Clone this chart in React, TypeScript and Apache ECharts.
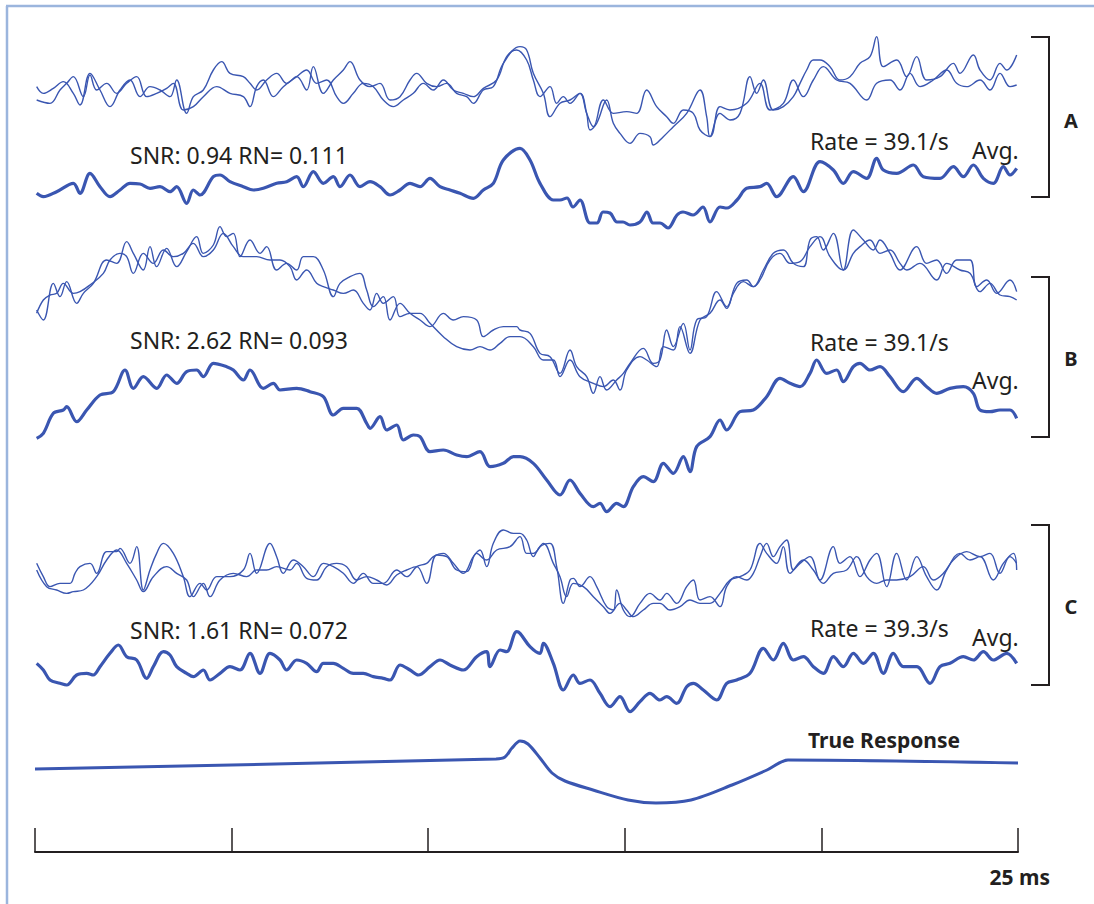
import React, { useEffect, useRef } from "react";
import * as echarts from "echarts";

// x: sample index (2949 samples = 25 ms), y: amplitude in arbitrary units
const aRaw1 = [[5,30],[25,10],[55,25],[85,45],[115,10],[135,-25],[165,70],[195,20],[225,-30],[255,20],[285,50],[315,0],[345,30],[375,20],[405,0],[425,50],[455,-50],[475,0],[505,20],[535,80],[560,105],[585,70],[625,60],[645,40],[665,20],[695,50],[725,70],[755,40],[785,60],[815,20],[835,90],[865,10],[895,50],[925,80],[945,105],[975,50],[1005,30],[1035,40],[1065,-10],[1095,0],[1125,50],[1145,70],[1175,40],[1205,30],[1235,40],[1265,10],[1295,0],[1315,-20],[1345,20],[1375,30],[1405,100],[1455,150],[1475,140],[1495,70],[1525,10],[1545,-60],[1575,-20],[1605,-10],[1635,10],[1655,-50],[1665,-100],[1685,-80],[1715,-10],[1735,-80],[1755,-110],[1785,-140],[1815,-110],[1845,-120],[1855,-145],[1885,-120],[1915,-90],[1955,-50],[1995,20],[2015,-60],[2025,-120],[2055,-50],[2085,-70],[2115,-50],[2145,60],[2165,10],[2185,50],[2215,-40],[2245,-30],[2275,0],[2295,40],[2315,80],[2335,110],[2355,110],[2385,90],[2415,50],[2445,60],[2475,100],[2505,120],[2525,180],[2545,90],[2585,110],[2615,60],[2645,120],[2675,50],[2715,60],[2755,100],[2775,70],[2815,125],[2835,80],[2865,50],[2895,100],[2915,80],[2945,125]];
const aRaw2 = [[5,-10],[45,-20],[75,20],[95,40],[115,60],[145,0],[165,65],[185,20],[215,40],[245,10],[275,40],[305,60],[335,0],[365,10],[395,25],[415,40],[445,-40],[475,-30],[505,0],[545,30],[585,10],[625,0],[645,-30],[665,30],[685,50],[715,0],[745,30],[785,60],[815,80],[845,40],[875,50],[905,0],[925,-20],[955,10],[985,40],[1015,30],[1045,-10],[1075,-30],[1105,-10],[1135,10],[1165,40],[1195,20],[1225,50],[1255,20],[1285,10],[1315,0],[1345,25],[1385,50],[1415,120],[1445,140],[1475,110],[1495,50],[1515,0],[1545,30],[1565,-20],[1585,0],[1605,-20],[1635,10],[1655,-50],[1675,-90],[1705,-10],[1735,-50],[1775,-45],[1805,-50],[1835,20],[1865,-30],[1895,-60],[1915,-80],[1945,-40],[1975,-50],[1995,-100],[2025,-120],[2055,-30],[2085,-40],[2135,-20],[2175,40],[2205,-40],[2245,-20],[2275,50],[2305,0],[2335,50],[2365,90],[2405,50],[2445,40],[2495,-10],[2525,40],[2565,50],[2595,20],[2625,70],[2655,30],[2695,50],[2735,80],[2765,40],[2795,30],[2835,50],[2865,20],[2895,70],[2925,30],[2945,35]];
const aAvg = [[5,10],[25,0],[65,15],[115,40],[135,10],[165,70],[195,30],[225,0],[255,20],[285,40],[315,38],[345,25],[375,30],[405,15],[425,30],[455,-20],[475,20],[495,5],[535,60],[555,65],[585,45],[625,30],[655,20],[685,25],[725,40],[755,45],[785,60],[805,30],[835,75],[865,40],[895,60],[915,30],[945,65],[975,30],[1005,45],[1035,30],[1065,5],[1095,20],[1125,40],[1155,30],[1185,55],[1215,30],[1245,20],[1275,10],[1315,-5],[1345,20],[1375,40],[1405,110],[1455,145],[1485,110],[1515,40],[1555,-10],[1575,-10],[1596,-4],[1614,-31],[1635,-10],[1665,-79],[1686,-79],[1704,-46],[1725,-49],[1746,-76],[1764,-76],[1785,-85],[1815,-76],[1836,-46],[1854,-79],[1875,-79],[1899,-94],[1926,-55],[1944,-46],[1974,-55],[2004,-31],[2025,-76],[2055,-31],[2076,-34],[2106,-10],[2135,25],[2175,30],[2195,40],[2225,0],[2275,60],[2305,15],[2355,105],[2395,80],[2425,40],[2455,75],[2495,55],[2525,115],[2545,80],[2585,70],[2635,95],[2665,60],[2715,55],[2755,90],[2785,60],[2815,95],[2845,55],[2875,40],[2905,90],[2925,65],[2945,85]];

const bRaw1 = [[5,-70],[25,-100],[55,10],[75,-30],[95,15],[125,-50],[145,-20],[175,10],[215,80],[245,70],[275,135],[295,100],[325,50],[345,120],[365,60],[395,115],[425,60],[455,105],[485,150],[505,100],[535,125],[555,180],[575,150],[595,160],[615,90],[645,140],[675,100],[695,120],[725,50],[755,70],[785,50],[805,90],[835,90],[865,50],[895,-30],[915,10],[945,30],[975,40],[995,-10],[1015,-60],[1045,-30],[1065,-100],[1095,-50],[1125,-80],[1155,-100],[1185,-120],[1225,-80],[1255,-100],[1285,-90],[1325,-100],[1345,-150],[1375,-130],[1405,-120],[1445,-120],[1455,-130],[1485,-140],[1515,-200],[1545,-210],[1575,-260],[1605,-190],[1625,-240],[1655,-270],[1675,-320],[1695,-270],[1715,-310],[1745,-280],[1765,-260],[1785,-230],[1825,-185],[1855,-230],[1875,-220],[1895,-130],[1915,-180],[1945,-110],[1965,-190],[1985,-100],[2015,-90],[2045,-15],[2075,-60],[2105,10],[2135,20],[2155,0],[2185,50],[2215,100],[2245,110],[2275,70],[2305,60],[2325,140],[2345,150],[2365,110],[2395,160],[2425,50],[2455,170],[2485,140],[2515,110],[2535,140],[2565,100],[2595,50],[2645,120],[2675,70],[2705,80],[2735,40],[2765,80],[2805,80],[2825,0],[2855,20],[2885,-20],[2925,20],[2945,-15]];
const bRaw2 = [[5,-80],[25,-40],[45,-25],[65,-20],[85,10],[115,-20],[135,-15],[165,5],[205,40],[225,80],[255,100],[275,90],[295,40],[325,100],[355,70],[385,110],[415,90],[445,100],[475,130],[505,90],[535,110],[565,160],[595,120],[625,90],[665,90],[705,80],[735,80],[765,60],[785,20],[815,50],[845,10],[865,0],[895,-10],[925,-20],[955,-10],[985,-50],[1005,-70],[1025,-20],[1045,-50],[1075,-30],[1095,-90],[1125,-80],[1155,-80],[1185,-110],[1225,-150],[1265,-180],[1305,-190],[1335,-180],[1365,-190],[1395,-170],[1425,-150],[1455,-150],[1495,-180],[1525,-220],[1555,-220],[1575,-270],[1605,-220],[1635,-270],[1675,-290],[1705,-300],[1735,-280],[1755,-310],[1775,-250],[1815,-210],[1835,-220],[1865,-240],[1885,-180],[1915,-190],[1935,-120],[1965,-200],[1995,-100],[2025,-80],[2055,-40],[2075,-65],[2095,-20],[2125,15],[2155,0],[2175,20],[2205,80],[2235,100],[2265,70],[2295,75],[2325,120],[2355,150],[2385,90],[2425,50],[2455,100],[2475,120],[2505,140],[2535,100],[2565,110],[2595,70],[2615,50],[2655,70],[2705,20],[2735,70],[2775,50],[2805,40],[2835,-15],[2865,10],[2895,-25],[2925,-30],[2945,-40]];
const bAvg = [[5,45],[25,60],[55,120],[85,130],[95,140],[125,95],[155,130],[195,175],[235,185],[270,250],[295,195],[325,230],[365,195],[395,235],[425,210],[455,245],[485,250],[505,230],[535,270],[575,260],[595,250],[625,220],[645,250],[685,195],[715,210],[735,190],[785,195],[825,185],[865,170],[895,115],[925,135],[965,135],[995,90],[1005,75],[1035,110],[1055,70],[1085,85],[1105,40],[1135,55],[1155,50],[1185,5],[1225,10],[1265,-5],[1295,-10],[1335,5],[1365,-40],[1405,-30],[1435,-10],[1455,-10],[1495,-30],[1535,-80],[1575,-125],[1605,-80],[1635,-120],[1675,-160],[1695,-150],[1715,-175],[1745,-150],[1765,-160],[1795,-100],[1825,-70],[1855,-85],[1885,-30],[1915,-60],[1945,-10],[1965,-55],[1985,20],[2025,50],[2055,100],[2075,70],[2115,125],[2155,130],[2195,170],[2235,225],[2265,210],[2295,200],[2325,240],[2345,280],[2375,240],[2405,250],[2425,215],[2455,260],[2475,270],[2505,250],[2535,260],[2565,230],[2605,185],[2645,225],[2675,200],[2705,180],[2745,195],[2785,200],[2815,180],[2835,130],[2865,125],[2895,130],[2925,130],[2945,105]];

const cRaw1 = [[5,70],[25,30],[45,0],[75,10],[105,10],[120,40],[135,60],[165,70],[185,40],[215,105],[245,105],[255,115],[285,70],[305,120],[325,-10],[345,50],[365,100],[385,130],[415,100],[445,30],[465,-30],[495,10],[515,-10],[545,30],[585,30],[625,50],[645,100],[665,40],[705,130],[725,90],[745,40],[775,80],[805,60],[835,30],[865,70],[895,60],[925,40],[955,10],[985,40],[1015,10],[1045,10],[1085,50],[1115,30],[1145,60],[1175,70],[1195,90],[1225,100],[1255,70],[1285,40],[1315,90],[1335,110],[1355,60],[1375,130],[1405,170],[1435,160],[1455,160],[1475,140],[1495,90],[1515,120],[1545,130],[1565,60],[1585,-50],[1605,20],[1615,25],[1635,0],[1665,30],[1685,0],[1715,-60],[1735,-70],[1745,-10],[1765,-70],[1785,-90],[1815,-50],[1845,-20],[1875,-40],[1895,-20],[1925,-50],[1955,0],[1975,20],[1995,-40],[2025,-30],[2055,-60],[2075,0],[2105,30],[2135,20],[2155,40],[2175,90],[2195,130],[2215,90],[2235,120],[2255,140],[2275,50],[2295,70],[2325,90],[2355,20],[2395,120],[2415,70],[2445,90],[2475,30],[2505,80],[2525,100],[2555,0],[2585,100],[2615,20],[2645,90],[2675,30],[2705,-10],[2735,50],[2775,100],[2805,80],[2835,90],[2875,20],[2905,70],[2935,100],[2945,50]];
const cRaw2 = [[5,50],[35,0],[65,-10],[95,-20],[115,-15],[145,-10],[185,30],[215,80],[245,110],[275,70],[305,20],[325,-15],[355,30],[395,60],[425,40],[455,20],[475,-30],[505,10],[525,-30],[555,20],[595,40],[635,30],[665,50],[695,50],[725,60],[765,50],[785,70],[815,25],[845,20],[875,60],[905,70],[935,60],[965,20],[995,30],[1025,20],[1055,5],[1085,35],[1115,50],[1145,60],[1175,10],[1205,95],[1235,90],[1265,50],[1295,45],[1325,100],[1355,80],[1385,110],[1425,120],[1455,150],[1475,100],[1495,100],[1525,130],[1555,70],[1575,30],[1595,-30],[1615,10],[1645,0],[1675,-30],[1705,-60],[1725,-80],[1755,-50],[1775,-70],[1795,-90],[1825,-70],[1855,-50],[1875,-50],[1905,-70],[1935,-60],[1965,-40],[1995,-50],[2025,-50],[2055,-20],[2085,20],[2115,30],[2145,50],[2175,130],[2195,100],[2225,70],[2245,120],[2265,40],[2305,80],[2335,50],[2365,10],[2395,40],[2435,50],[2465,90],[2495,30],[2525,10],[2555,20],[2585,20],[2625,30],[2665,60],[2695,20],[2725,40],[2755,80],[2795,105],[2835,90],[2865,100],[2895,40],[2925,90],[2945,70]];
const cAvg = [[5,70],[25,50],[45,20],[75,10],[95,5],[125,35],[155,40],[175,35],[195,60],[225,100],[250,125],[275,90],[305,80],[335,25],[355,60],[385,105],[405,95],[425,60],[455,40],[475,30],[505,50],[525,20],[555,40],[585,60],[615,50],[645,100],[675,40],[705,100],[735,80],[755,50],[785,80],[815,70],[845,45],[865,70],[895,70],[925,55],[955,40],[985,40],[1015,30],[1045,25],[1065,20],[1095,65],[1125,50],[1150,35],[1185,60],[1215,80],[1245,65],[1285,50],[1325,90],[1355,105],[1365,60],[1395,110],[1415,105],[1445,165],[1455,160],[1485,120],[1515,100],[1525,130],[1555,70],[1585,-10],[1615,35],[1635,10],[1665,20],[1695,-20],[1725,-60],[1755,-30],[1785,-75],[1815,-45],[1845,-20],[1875,-40],[1895,-30],[1925,-50],[1955,0],[1975,10],[2005,-10],[2045,-40],[2075,10],[2105,20],[2145,40],[2185,115],[2215,80],[2245,130],[2275,80],[2305,90],[2335,60],[2365,40],[2395,90],[2425,60],[2455,100],[2485,70],[2515,100],[2545,40],[2575,100],[2605,60],[2645,60],[2685,10],[2715,60],[2745,70],[2785,90],[2815,80],[2845,105],[2875,80],[2915,100],[2945,70]];

const trueResponse = [[0,53],[1383,83],[1410,89],[1431,116],[1455,137],[1479,128],[1515,86],[1551,41],[1590,17],[1674,-10],[1779,-40],[1863,-49],[1968,-40],[2091,5],[2196,50],[2259,80],[2949,71]];

const panelLabels = ["A", "B", "C"];
const snrLabels = ["SNR: 0.94 RN= 0.111", "SNR: 2.62 RN= 0.093", "SNR: 1.61 RN= 0.072"];
const rateLabels = ["Rate = 39.1/s", "Rate = 39.1/s", "Rate = 39.3/s"];
const avgLabel = "Avg.";
const trueLabel = "True Response";
const scaleLabel = "25 ms";
const scaleMs = [0, 25];
const scaleStep = 5;
const totalSamples = 2949;

const BLUE = "#3a56b1";
const INK = "#231f20";
const FONT = "Noto Sans";

export default function App() {
  const ref = useRef<HTMLDivElement>(null);
  useEffect(() => {
    if (!ref.current) return;
    const chart = echarts.init(ref.current, undefined, { renderer: "svg" });

    // grid layout: [top, height, yMin, yMax]
    const layout = [
      [30, 100, -100, 200],
      [130, 100, -100, 200],
      [220, 180, -340, 200],
      [340, 180, -200, 340],
      [520, 110, -130, 200],
      [620, 100, -100, 200],
      [720, 100, -100, 200],
    ];
    const grids: any[] = layout.map((l) => ({ left: 35, width: 983, top: l[0], height: l[1] }));
    grids.push({ left: 35, width: 983, top: 828, height: 24 });

    const xAxes: any[] = layout.map((_, i) => ({
      type: "value", gridIndex: i, min: 0, max: totalSamples, show: false,
    }));
    xAxes.push({
      type: "value", gridIndex: 7, min: scaleMs[0], max: scaleMs[1], interval: scaleStep,
      position: "bottom",
      axisLine: { show: true, lineStyle: { color: INK, width: 2 } },
      axisTick: { show: true, inside: true, length: 24, lineStyle: { color: INK, width: 1.5 } },
      axisLabel: { show: false }, splitLine: { show: false },
    });
    const yAxes: any[] = layout.map((l, i) => ({
      type: "value", gridIndex: i, min: l[2], max: l[3], show: false,
    }));
    yAxes.push({ type: "value", gridIndex: 7, min: 0, max: 1, show: false });

    const mk = (data: number[][], idx: number, width: number, smooth: number) => ({
      type: "line", xAxisIndex: idx, yAxisIndex: idx, data, showSymbol: false, symbol: "none",
      smooth, clip: false, lineStyle: { color: BLUE, width }, silent: true,
    });
    const series = [
      mk(aRaw1, 0, 1.4, 0.4), mk(aRaw2, 0, 1.4, 0.4), mk(aAvg, 1, 3.2, 0.35),
      mk(bRaw1, 2, 1.4, 0.4), mk(bRaw2, 2, 1.4, 0.4), mk(bAvg, 3, 3.2, 0.35),
      mk(cRaw1, 4, 1.4, 0.4), mk(cRaw2, 4, 1.4, 0.4), mk(cAvg, 5, 3.2, 0.35),
      mk(trueResponse, 6, 3, 0.3),
    ];

    const txt = (text: string, x: number, y: number, opts: any = {}) => ({
      type: "text", x, y, silent: true,
      style: {
        text, fill: INK, font: `${opts.weight || "normal"} ${opts.size || 23}px "${FONT}"`,
        textAlign: opts.align || "left", textVerticalAlign: "middle",
      },
    });
    const bracket = (top: number, bottom: number) => ({
      type: "polyline", silent: true,
      shape: { points: [[1031, top], [1049, top], [1049, bottom], [1031, bottom]] },
      style: { stroke: INK, lineWidth: 2, fill: "none" },
    });
    const snrY = [155, 340, 630];
    const rateY = [141, 342, 628];
    const avgY = [150, 380, 637];
    const labY = [120, 358, 606];
    const brk = [[37, 197], [277, 437], [525, 685]];
    const graphic: any[] = [
      { type: "line", silent: true, shape: { x1: 7, y1: 6, x2: 7, y2: 904 }, style: { stroke: "#9bb5dd", lineWidth: 2.5 } },
      { type: "line", silent: true, shape: { x1: 6, y1: 6, x2: 1094, y2: 6 }, style: { stroke: "#9bb5dd", lineWidth: 2.5 } },
    ];
    panelLabels.forEach((p, i) => {
      graphic.push(txt(snrLabels[i], 130, snrY[i]));
      graphic.push(txt(rateLabels[i], 810, rateY[i]));
      graphic.push(txt(avgLabel, 972, avgY[i]));
      graphic.push(txt(p, 1071, labY[i], { weight: "bold", size: 20, align: "center" }));
      graphic.push(bracket(brk[i][0], brk[i][1]));
    });
    graphic.push(txt(trueLabel, 808, 740, { weight: "bold", size: 21 }));
    graphic.push(txt(scaleLabel, 1050, 877, { weight: "bold", size: 21, align: "right" }));

    chart.setOption({
      animation: false,
      backgroundColor: "#ffffff",
      grid: grids,
      xAxis: xAxes,
      yAxis: yAxes,
      series,
      graphic,
    });
    return () => chart.dispose();
  }, []);
  return <div ref={ref} style={{ position: "absolute", left: 0, top: 0, width: 1094, height: 904 }} />;
}
